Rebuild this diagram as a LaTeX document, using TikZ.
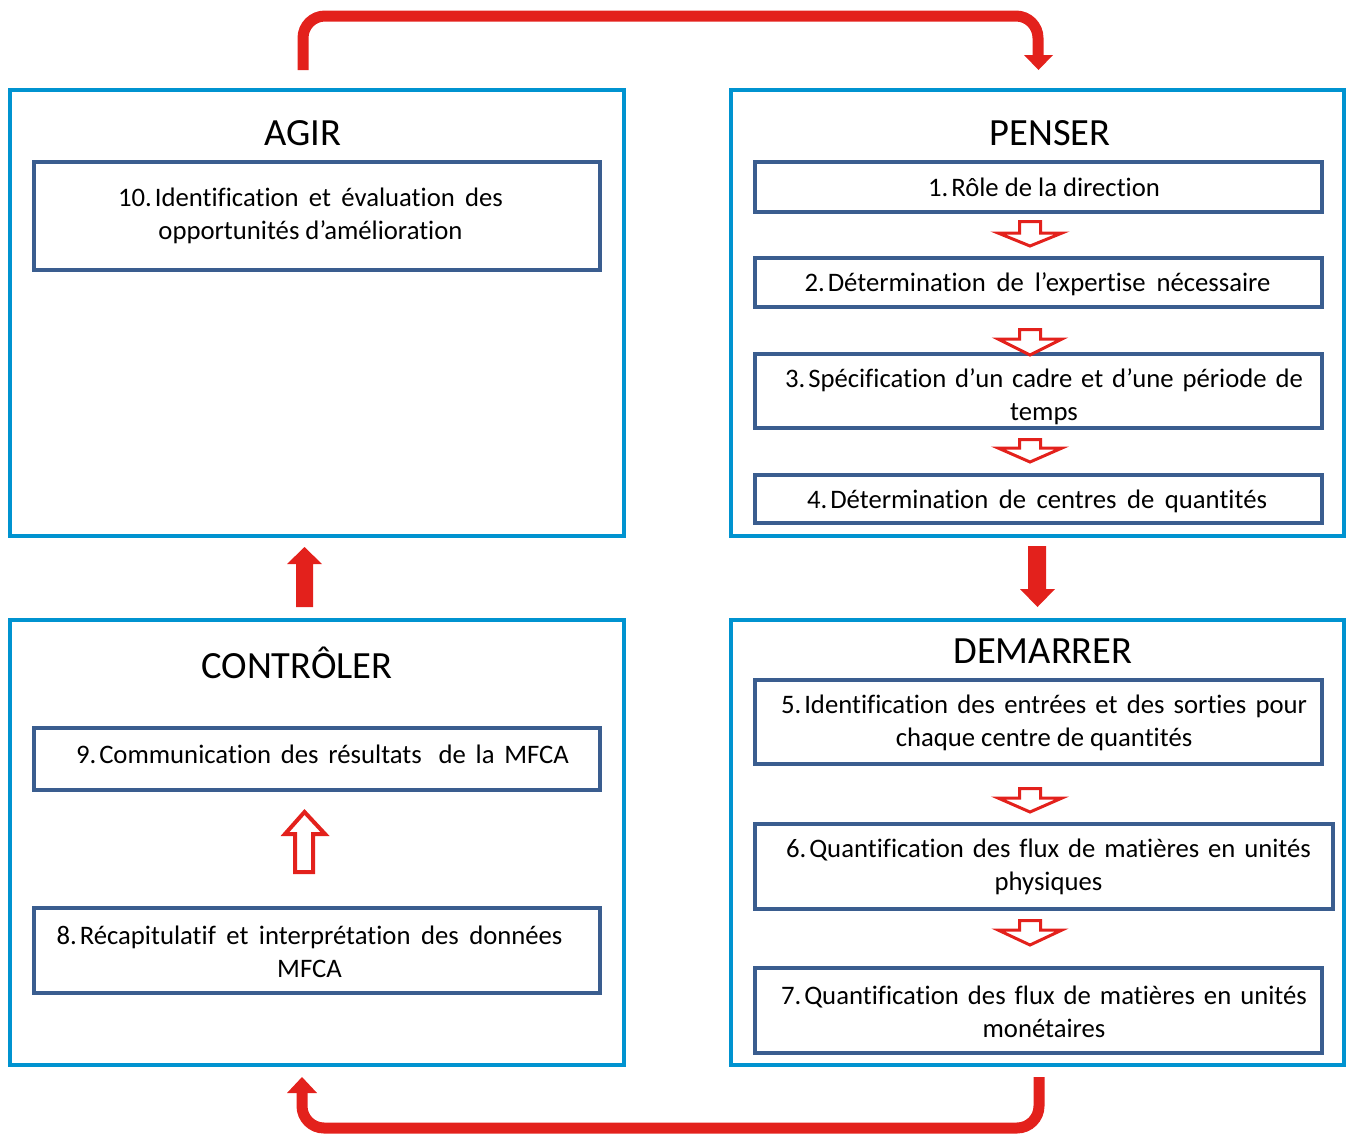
\documentclass[tikz,border=0pt]{standalone}
\usepackage{fontspec}
\setmainfont{Carlito}[Ligatures=NoCommon]
\definecolor{boxblue}{HTML}{0093D0}
\definecolor{stepblue}{HTML}{3A5D8F}
\definecolor{arrred}{HTML}{E3211C}
\newcommand\hollowdown[3]{%
  \draw[hollow] (1019.5,#1+1.5) -- (1040.5,#1+1.5) -- (1040.5,#2) -- (1062,#2) -- (1030,#3-2) -- (998,#2) -- (1019.5,#2) -- cycle;}
\newcommand\jline[2]{\makebox[#1][s]{#2}}
\newcommand\nsp{\hspace{3pt}}
\begin{document}
\begin{tikzpicture}[x=1pt,y=-1pt,
  outerbox/.style={draw=boxblue, line width=4pt, inner sep=0pt},
  stepbox/.style={draw=stepblue, line width=4pt, inner sep=0pt},
  txt/.style={font=\fontsize{26.7}{33}\selectfont, align=center, inner sep=0pt, text=black},
  ttl/.style={font=\fontsize{38.5}{44}\selectfont, inner sep=0pt, text=black},
  bigarrow/.style={draw=arrred, line width=11pt, rounded corners=22pt},
  hollow/.style={draw=arrred, line width=3pt, fill=white, line join=miter},
]
\useasboundingbox (0,0) rectangle (1346,1133);

% outer boxes
\node[outerbox, minimum width=614pt, minimum height=446pt] (agir) at (317,313) {};
\node[outerbox, minimum width=613pt, minimum height=446pt] (penser) at (1037.5,313) {};
\node[outerbox, minimum width=614pt, minimum height=445pt] (controler) at (317,842.5) {};
\node[outerbox, minimum width=613pt, minimum height=445pt] (demarrer) at (1037.5,842.5) {};

% titles
\node[ttl] (tagir) at (303,133) {AGIR};
\node[ttl] (tpenser) at (1050,133) {PENSER};
\node[ttl] (tcontroler) at (297,663) {CONTRÔLER};
\node[ttl] (tdemarrer) at (1043,651) {DEMARRER};

% step boxes
\node[stepbox, minimum width=566pt, minimum height=108pt] (s10) at (317,216) {};
\node[stepbox, minimum width=567pt, minimum height=50pt] (s1) at (1038.5,187) {};
\node[stepbox, minimum width=567pt, minimum height=49pt] (s2) at (1038.5,282.5) {};
\node[stepbox, minimum width=567pt, minimum height=74pt] (s3) at (1038.5,391) {};
\node[stepbox, minimum width=567pt, minimum height=48pt] (s4) at (1038.5,499) {};
\node[stepbox, minimum width=567pt, minimum height=84pt] (s5) at (1038.5,722) {};
\node[stepbox, minimum width=578pt, minimum height=85pt] (s6) at (1044,866.5) {};
\node[stepbox, minimum width=567pt, minimum height=85pt] (s7) at (1038.5,1010.5) {};
\node[stepbox, minimum width=566pt, minimum height=62pt] (s9) at (317,759) {};
\node[stepbox, minimum width=566pt, minimum height=85pt] (s8) at (317,950.5) {};

% step texts
\node[txt] (t10) at (310.5,216) {\jline{385pt}{10.\nsp Identification et évaluation des}\\opportunités d’amélioration};
\node[txt] (t1) at (1044,187) {1.\nsp Rôle de la direction};
\node[txt] (t2) at (1037.5,284) {\jline{466pt}{2.\nsp Détermination de l’expertise nécessaire}};
\node[txt] (t3) at (1044,396.5) {\jline{518pt}{3.\nsp Spécification d’un cadre et d’une période de}\\temps};
\node[txt] (t4) at (1037,501) {\jline{460pt}{4.\nsp Détermination de centres de quantités}};
\node[txt] (t5) at (1044,722.5) {\jline{526pt}{5.\nsp Identification des entrées et des sorties pour}\\chaque centre de quantités};
\node[txt] (t6) at (1048.5,867) {\jline{525pt}{6.\nsp Quantification des flux de matières en unités}\\physiques};
\node[txt] (t7) at (1044,1011.5) {\jline{526pt}{7.\nsp Quantification des flux de matières en unités}\\monétaires};
\node[txt] (t9) at (322.5,754) {\jline{493pt}{9.\nsp Communication des résultats\hspace{7pt} de la MFCA}};
\node[txt] (t8) at (309.5,951.5) {\jline{506pt}{8.\nsp Récapitulatif et interprétation des données}\\MFCA};

% big loop arrows
\draw[bigarrow] (303,70) -- (303,16) -- (1038,16) -- (1038,56);
\fill[arrred] (1024,55) -- (1053,55) -- (1038.5,70) -- cycle;
\draw[bigarrow] (1039,1077) -- (1039,1128) -- (302,1128) -- (302,1093);
\fill[arrred] (287,1093) -- (317,1093) -- (302,1077) -- cycle;

% filled middle arrows
\fill[arrred] (296,607) -- (313,607) -- (313,564) -- (322,564) -- (304.5,547) -- (287,564) -- (296,564) -- cycle;
\fill[arrred] (1028,546) -- (1046,546) -- (1046,589) -- (1055,589) -- (1037.5,607) -- (1020,589) -- (1028,589) -- cycle;

% hollow up arrow between 8 and 9
\draw[draw=arrred, line width=4pt, fill=white, line join=miter] (295,872) -- (313,872) -- (313,834) -- (325,834) -- (304.5,812) -- (285,834) -- (295,834) -- cycle;

% small hollow down arrows
\hollowdown{220}{233}{248}
\hollowdown{328}{339}{357}
\hollowdown{438}{448}{464}
\hollowdown{787}{798}{814}
\hollowdown{919}{930}{947}
\end{tikzpicture}
\end{document}
